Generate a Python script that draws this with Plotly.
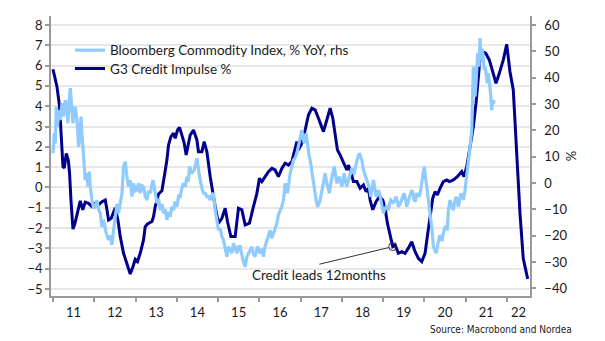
import plotly.graph_objects as go

# ---------------- data ----------------
credit_t = [2011.000, 2011.097, 2011.160, 2011.194, 2011.242, 2011.274, 2011.322, 2011.371, 2011.402, 2011.436,
            2011.484, 2011.528, 2011.581, 2011.661, 2011.722, 2011.782, 2011.862, 2011.945, 2012.024, 2012.104,
            2012.187, 2012.267, 2012.308, 2012.347, 2012.412, 2012.468, 2012.509, 2012.574, 2012.630, 2012.710,
            2012.807, 2012.872, 2012.938, 2012.993, 2013.049, 2013.114, 2013.194, 2013.235, 2013.291, 2013.398,
            2013.436, 2013.478, 2013.558, 2013.640, 2013.696, 2013.761, 2013.800, 2013.858, 2013.921, 2013.962,
            2014.018, 2014.066, 2014.124, 2014.180, 2014.228, 2014.284, 2014.325, 2014.405, 2014.488, 2014.526,
            2014.609, 2014.664, 2014.730, 2014.810, 2014.875, 2014.931, 2015.011, 2015.093, 2015.173, 2015.229,
            2015.311, 2015.415, 2015.495, 2015.577, 2015.657, 2015.761, 2015.858, 2015.941, 2016.004, 2016.062,
            2016.142, 2016.222, 2016.304, 2016.384, 2016.464, 2016.546, 2016.626, 2016.706, 2016.788, 2016.851,
            2016.910, 2016.948, 2017.031, 2017.111, 2017.191, 2017.273, 2017.353, 2017.433, 2017.554, 2017.636,
            2017.716, 2017.781, 2017.837, 2017.893, 2017.958, 2018.038, 2018.120, 2018.159, 2018.217, 2018.280,
            2018.363, 2018.443, 2018.523, 2018.588, 2018.644, 2018.685, 2018.750, 2018.830, 2018.910, 2018.992,
            2019.048, 2019.104, 2019.169, 2019.234, 2019.290, 2019.370, 2019.453, 2019.532, 2019.612, 2019.695,
            2019.775, 2019.855, 2019.937, 2020.017, 2020.082, 2020.138, 2020.203, 2020.259, 2020.315, 2020.380,
            2020.460, 2020.542, 2020.605, 2020.702, 2020.799, 2020.906, 2020.961, 2021.027, 2021.107, 2021.187,
            2021.252, 2021.308, 2021.349, 2021.405, 2021.487, 2021.574, 2021.656, 2021.736, 2021.816, 2021.913,
            2021.995, 2022.075, 2022.155, 2022.238, 2022.318, 2022.397, 2022.504]
credit_v = [5.82, 4.96, 3.98, 2.67, 1.02, 0.96, 1.68, 1.35, 0.70, -0.62,
            -2.05, -1.80, -1.35, -0.66, -1.10, -0.72, -0.78, -0.94, -0.78, -0.86,
            -0.70, -0.62, -1.10, -1.60, -1.52, -1.19, -1.00, -1.60, -2.42, -3.24,
            -3.90, -4.26, -3.90, -3.54, -3.65, -3.24, -2.58, -1.93, -1.80, -1.68,
            -1.44, -0.94, -0.32, -0.16, 0.53, 1.35, 2.09, 2.50, 2.67, 2.42,
            2.83, 2.96, 2.58, 2.18, 1.60, 2.09, 2.58, 2.83, 2.34, 1.76,
            1.76, 2.26, 1.76, 0.53, -0.29, -0.94, -1.76, -1.52, -1.02, -1.68,
            -2.42, -2.42, -1.02, -1.10, -1.85, -1.76, -0.94, -0.29, 0.45, 0.29,
            0.53, 0.78, 0.94, 0.86, 0.53, 0.94, 1.19, 1.10, 1.27, 1.85,
            2.26, 1.85, 2.18, 2.83, 3.57, 3.90, 3.82, 3.41, 2.75, 3.32,
            3.90, 3.41, 2.67, 1.85, 1.60, 1.27, 0.86, 1.10, 0.78, 0.29,
            0.29, -0.04, 0.12, -0.21, -0.04, -0.62, -1.10, -0.70, -0.45, -0.62,
            -1.02, -1.76, -2.42, -2.91, -2.83, -3.24, -3.16, -3.24, -2.99, -2.67,
            -3.16, -3.49, -3.65, -3.24, -2.26, -1.44, -0.53, -0.21, -0.37, -0.04,
            0.29, 0.37, 0.29, 0.37, 0.53, 0.78, 0.53, 1.02, 1.93, 2.99,
            4.15, 5.46, 6.36, 6.69, 6.61, 6.28, 5.70, 5.13, 5.62, 6.28,
            7.05, 5.70, 4.80, 1.60, -1.30, -3.50, -4.50]

bcom_t = [2011.000, 2011.031, 2011.056, 2011.080, 2011.111, 2011.145, 2011.177, 2011.218, 2011.257, 2011.298,
          2011.339, 2011.363, 2011.395, 2011.419, 2011.443, 2011.484, 2011.516, 2011.540, 2011.581, 2011.620,
          2011.644, 2011.678, 2011.702, 2011.741, 2011.782, 2011.823, 2011.848, 2011.879, 2011.903, 2011.945,
          2011.983, 2012.024, 2012.066, 2012.104, 2012.146, 2012.187, 2012.226, 2012.291, 2012.347, 2012.388,
          2012.429, 2012.468, 2012.509, 2012.550, 2012.589, 2012.630, 2012.671, 2012.710, 2012.751, 2012.792,
          2012.831, 2012.872, 2012.913, 2012.952, 2012.993, 2013.034, 2013.073, 2013.114, 2013.156, 2013.194,
          2013.235, 2013.277, 2013.315, 2013.357, 2013.422, 2013.453, 2013.519, 2013.558, 2013.599, 2013.640,
          2013.679, 2013.720, 2013.761, 2013.800, 2013.841, 2013.882, 2013.921, 2013.962, 2014.003, 2014.042,
          2014.083, 2014.124, 2014.163, 2014.204, 2014.245, 2014.277, 2014.308, 2014.367, 2014.422, 2014.488,
          2014.519, 2014.551, 2014.609, 2014.647, 2014.689, 2014.730, 2014.769, 2014.810, 2014.851, 2014.890,
          2014.931, 2014.972, 2015.011, 2015.052, 2015.093, 2015.132, 2015.173, 2015.214, 2015.253, 2015.294,
          2015.335, 2015.374, 2015.415, 2015.456, 2015.495, 2015.536, 2015.602, 2015.657, 2015.699, 2015.737,
          2015.779, 2015.820, 2015.858, 2015.899, 2015.955, 2016.021, 2016.062, 2016.101, 2016.142, 2016.183,
          2016.222, 2016.263, 2016.304, 2016.343, 2016.384, 2016.425, 2016.464, 2016.505, 2016.546, 2016.585,
          2016.626, 2016.682, 2016.716, 2016.747, 2016.788, 2016.827, 2016.868, 2016.910, 2016.948, 2016.990,
          2017.031, 2017.062, 2017.087, 2017.135, 2017.166, 2017.200, 2017.232, 2017.263, 2017.297, 2017.329,
          2017.353, 2017.384, 2017.409, 2017.442, 2017.474, 2017.505, 2017.539, 2017.571, 2017.595, 2017.636,
          2017.668, 2017.699, 2017.728, 2017.757, 2017.789, 2017.820, 2017.849, 2017.878, 2017.910, 2017.941,
          2017.970, 2018.000, 2018.031, 2018.055, 2018.087, 2018.120, 2018.152, 2018.184, 2018.213, 2018.242,
          2018.273, 2018.297, 2018.329, 2018.363, 2018.394, 2018.426, 2018.455, 2018.484, 2018.523, 2018.552,
          2018.588, 2018.620, 2018.644, 2018.673, 2018.702, 2018.733, 2018.765, 2018.799, 2018.830, 2018.862,
          2018.886, 2018.915, 2018.944, 2018.976, 2019.007, 2019.041, 2019.073, 2019.104, 2019.128, 2019.157,
          2019.186, 2019.218, 2019.249, 2019.283, 2019.315, 2019.346, 2019.370, 2019.412, 2019.453, 2019.484,
          2019.508, 2019.540, 2019.574, 2019.605, 2019.637, 2019.666, 2019.695, 2019.726, 2019.751, 2019.782,
          2019.816, 2019.847, 2019.879, 2019.908, 2019.937, 2019.969, 2019.993, 2020.017, 2020.041, 2020.070,
          2020.097, 2020.126, 2020.155, 2020.187, 2020.218, 2020.252, 2020.283, 2020.312, 2020.339, 2020.368,
          2020.397, 2020.429, 2020.460, 2020.494, 2020.526, 2020.555, 2020.581, 2020.605, 2020.623, 2020.664,
          2020.702, 2020.736, 2020.768, 2020.797, 2020.824, 2020.858, 2020.889, 2020.918, 2020.945, 2020.986,
          2021.027, 2021.066, 2021.107, 2021.148, 2021.172, 2021.187, 2021.209, 2021.228, 2021.252, 2021.269,
          2021.293, 2021.325, 2021.349, 2021.373, 2021.397, 2021.414, 2021.433, 2021.453, 2021.475, 2021.494,
          2021.526, 2021.550, 2021.572, 2021.591, 2021.611, 2021.632, 2021.656, 2021.675, 2021.688]
bcom_v = [11.3, 18.9, 15.0, 29.0, 21.4, 27.7, 23.9, 30.3, 25.2, 31.5,
          27.7, 22.7, 31.5, 36.0, 31.5, 22.7, 27.7, 29.0, 23.9, 13.8,
          16.3, 25.2, 18.9, 10.0, 1.1, 3.7, -1.4, 4.3, -1.4, -6.5,
          -9.6, -9.0, -6.5, -10.0, -11.5, -16.6, -14.0, -19.1, -21.6, -20.0,
          -23.5, -18.0, -12.0, -8.0, -11.5, -7.0, -3.9, 6.2, 8.1, 2.4,
          -1.4, 1.1, -5.2, -0.1, -3.0, -2.7, -0.1, -3.9, -1.0, -1.4,
          -5.0, -6.5, -3.0, -3.9, 1.1, -1.4, -7.7, -6.0, -10.3, -8.0,
          -11.5, -10.0, -14.0, -11.0, -12.8, -9.0, -10.3, -7.0, -9.0, -5.0,
          -5.2, -2.0, -0.1, -1.5, 2.4, 0.5, 6.2, 3.7, 4.9, 9.4,
          5.0, 2.4, -2.0, -3.9, -3.9, -5.2, -5.2, -6.5, -4.5, -3.9,
          -10.3, -14.0, -17.9, -17.2, -20.4, -21.6, -24.2, -28.0, -24.2, -25.4,
          -26.7, -22.9, -25.4, -26.7, -24.2, -24.2, -29.2, -31.8, -28.0, -26.7,
          -25.0, -24.2, -27.0, -28.0, -24.2, -26.7, -25.0, -28.0, -24.0, -21.6,
          -20.0, -17.9, -21.0, -19.1, -17.0, -15.3, -12.0, -10.3, -9.0, -6.5,
          -0.1, -3.9, 1.0, 3.7, 6.0, 8.7, 9.5, 11.3, 14.0, 17.6,
          20.1, 17.0, 15.1, 18.9, 13.8, 11.0, 8.7, 5.0, 2.4, -1.0,
          -3.9, -7.0, -9.0, -8.0, -6.5, -4.0, -1.4, 1.0, 3.7, -0.1,
          -2.0, -3.9, -0.5, 2.4, 4.5, 6.2, 2.0, -0.1, 1.0, 2.4,
          0.5, -1.4, 1.0, 3.7, 1.0, -1.4, 0.5, 2.4, 4.0, 5.6,
          4.0, 3.7, 6.0, 8.7, 10.0, 11.3, 10.0, 8.7, 4.9, 3.5,
          2.4, 1.0, -0.1, -2.0, -5.2, -2.0, 1.1, -2.0, -5.2, -4.0,
          -2.7, -4.0, -6.5, -9.0, -11.5, -10.0, -9.0, -9.5, -10.3, -8.0,
          -6.5, -7.0, -7.7, -6.5, -5.2, -7.0, -9.0, -8.0, -6.5, -5.0,
          -3.9, -6.0, -9.0, -7.0, -5.2, -4.0, -2.7, -4.0, -6.5, -7.0,
          -3.9, -4.5, -5.2, -3.0, -0.1, 3.0, 6.2, 3.5, 1.1, -3.0,
          -6.5, -10.0, -14.0, -18.0, -24.0, -26.0, -26.7, -24.5, -21.5, -20.0,
          -20.5, -22.0, -19.0, -17.0, -16.6, -18.0, -10.3, -8.0, -6.5, -9.0,
          -10.3, -7.0, -5.2, -7.0, -9.0, -6.0, -3.9, -5.0, -6.5, -2.7,
          2.4, 7.5, 13.8, 20.1, 31.5, 44.2, 38.0, 32.8, 38.0, 41.7,
          49.3, 44.2, 55.0, 46.7, 51.0, 49.3, 45.0, 42.9, 44.0, 40.4,
          37.9, 41.7, 39.0, 36.6, 33.0, 27.7, 31.5, 30.0, 31.5]

years = list(range(2011, 2023))
year_labels = [str(y)[2:] for y in years]
x_range = [2010.952, 2022.56]
label_pos = [y + 0.5 for y in years[:-1]] + [(years[-1] + x_range[1]) / 2]

annot_text = "Credit leads 12months"
source_text = "Source: Macrobond and Nordea"

# ---------------- styles ----------------
FONT = "Lato, 'Open Sans', sans-serif"
DARK = "#00008c"
LIGHT = "#8fcbff"
AXIS = "#9a9a9a"
GRID = "#e8e8e8"
TXT = "#1a1a1a"

fig = go.Figure()
fig.add_trace(go.Scatter(x=credit_t, y=credit_v, name="G3 Credit Impulse %", mode="lines",
                         line=dict(color=DARK, width=3), yaxis="y", legend="legend2"))
fig.add_trace(go.Scatter(x=bcom_t, y=bcom_v, name="Bloomberg Commodity Index, % YoY, rhs", mode="lines",
                         line=dict(color=LIGHT, width=3.2), yaxis="y2", legend="legend"))

leg_common = dict(x=0.0397, xanchor="left", yanchor="top", bgcolor="rgba(0,0,0,0)",
                  font=dict(size=13.5, color=TXT))

fig.update_layout(
    width=605, height=341,
    margin=dict(l=51, r=75, t=16, b=45),
    paper_bgcolor="white", plot_bgcolor="white",
    font=dict(family=FONT, size=13, color=TXT),
    showlegend=True,
    legend=dict(y=0.9325, **leg_common),
    legend2=dict(y=0.8668, **leg_common),
    xaxis=dict(range=x_range, tickmode="array", tickvals=label_pos, ticktext=year_labels,
               ticks="", showgrid=False, zeroline=False, showline=True, linecolor=AXIS, linewidth=1.5,
               tickfont=dict(size=13), ticklabelstandoff=4,
               minor=dict(tickmode="array", tickvals=years, ticks="outside", ticklen=4,
                          tickcolor=AXIS, tickwidth=1.5, showgrid=False)),
    yaxis=dict(range=[-5.345, 8.443], tickmode="linear", tick0=0, dtick=1,
               showgrid=True, gridcolor=GRID, gridwidth=1.5, zeroline=False,
               showline=True, linecolor=AXIS, linewidth=1.5,
               ticks="outside", ticklen=4, tickcolor=AXIS, tickwidth=1.5, tickfont=dict(size=13)),
    yaxis2=dict(range=[-42.92, 63.42], tickmode="linear", tick0=0, dtick=10, overlaying="y", side="right",
                showgrid=False, zeroline=False, showline=True, linecolor=AXIS, linewidth=1.5,
                ticks="outside", ticklen=4, tickcolor=AXIS, tickwidth=1.5, tickfont=dict(size=13),
                ticklabelstandoff=6,
                title=dict(text="%", font=dict(size=13), standoff=0)),
)

# annotation: circle on the credit impulse point and connector to the label
i_c = min(range(len(credit_t)), key=lambda k: abs(credit_t[k] - 2019.234))
cx, cy = credit_t[i_c], credit_v[i_c]
fig.add_shape(type="circle", xref="x", yref="y", xsizemode="pixel", ysizemode="pixel",
              xanchor=cx, yanchor=cy, x0=-4, x1=4, y0=-4, y1=4,
              line=dict(color="#333333", width=1))
fig.add_shape(type="line", xref="x", yref="y", x0=2017.455, y0=-3.78, x1=2019.140, y1=-2.96,
              line=dict(color="#333333", width=1))
fig.add_annotation(x=2017.455, y=-4.31, xref="x", yref="y", text=annot_text, showarrow=False,
                   font=dict(size=13.5, color=TXT), xanchor="center", yanchor="middle")
fig.add_annotation(x=(574 - 51) / 479, y=(296 - 329) / 280, xref="paper", yref="paper",
                   text=source_text, showarrow=False, xanchor="right", yanchor="middle",
                   font=dict(family="'Liberation Sans Narrow', 'DejaVu Sans Condensed', Roboto, sans-serif",
                             size=10, color=TXT))

fig.write_html("out.html")
